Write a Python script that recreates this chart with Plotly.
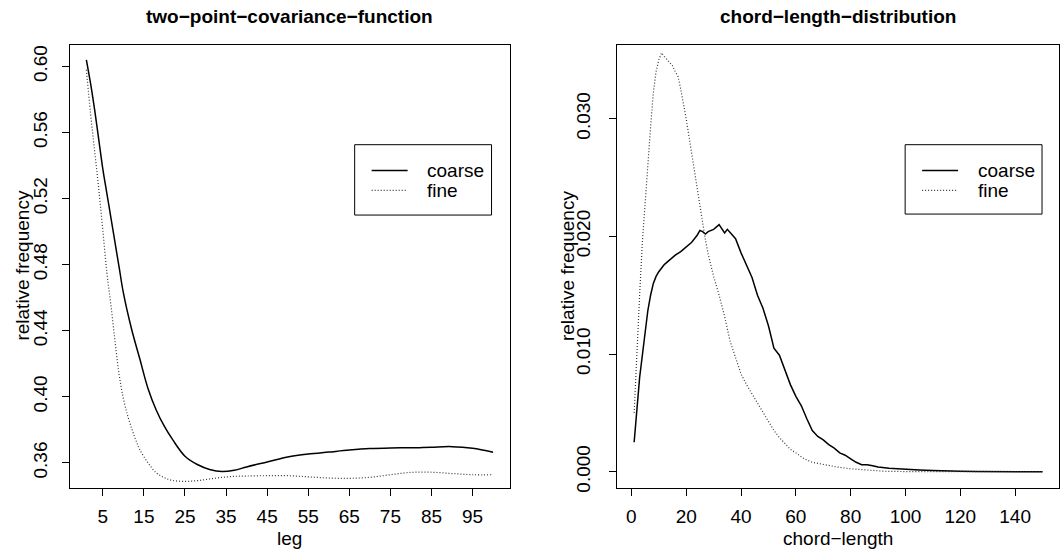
import plotly.graph_objects as go

# ---------------- data: two-point covariance function ----------------
leg_x = [1, 2, 3, 4, 5, 6, 7, 8, 9, 10, 12, 14, 16, 18, 20, 22, 25, 28, 31, 34,
         37, 40, 45, 50, 55, 60, 65, 70, 75, 80, 85, 90, 95, 100]
cov_coarse = [0.604, 0.590, 0.574, 0.556, 0.538, 0.523, 0.508, 0.493, 0.478, 0.463,
              0.441, 0.423, 0.405, 0.392, 0.382, 0.374, 0.364, 0.3590, 0.3560, 0.3547,
              0.3555, 0.3575, 0.3605, 0.3635, 0.3653, 0.3665, 0.3677, 0.3686, 0.3690,
              0.3691, 0.3695, 0.3698, 0.3688, 0.3664]

leg_x_fine = [1, 2, 3, 4, 5, 6, 7, 8, 9, 10, 11, 12, 13, 14, 16, 18, 20, 22, 25, 28,
              31, 34, 37, 40, 45, 50, 55, 60, 65, 70, 75, 80, 85, 90, 95, 100]
cov_fine = [0.598, 0.572, 0.549, 0.526, 0.501, 0.475, 0.455, 0.433, 0.413, 0.399,
            0.389, 0.381, 0.374, 0.368, 0.360, 0.354, 0.351, 0.3493, 0.3488, 0.3492,
            0.3502, 0.3512, 0.3518, 0.3520, 0.3522, 0.3522, 0.3515, 0.3508, 0.3506,
            0.3512, 0.3528, 0.3542, 0.3543, 0.3535, 0.3528, 0.3528]

# ---------------- data: chord length distribution ----------------
chord_x_coarse = [1, 2, 3, 4, 5, 6, 7, 8, 9, 10, 12, 14, 16, 18, 20, 22, 24, 25, 26, 27,
                  28, 30, 32, 33, 34, 35, 36, 38, 40, 42, 44, 46, 48, 50, 52, 54, 56, 58,
                  60, 62, 64, 66, 68, 70, 72, 74, 76, 78, 80, 82, 84, 86, 88, 90, 94, 100,
                  105, 110, 115, 120, 126, 130, 140, 150]
chord_coarse = [0.0025, 0.0055, 0.0080, 0.0099, 0.0120, 0.0137, 0.0150, 0.0160, 0.0166,
                0.0170, 0.0176, 0.0180, 0.0184, 0.0187, 0.0191, 0.0195, 0.0201, 0.0205,
                0.0204, 0.0202, 0.0204, 0.0206, 0.0210, 0.0206, 0.0203, 0.0206, 0.0203,
                0.0198, 0.0186, 0.0175, 0.0165, 0.0150, 0.0139, 0.0124, 0.0105, 0.0099,
                0.0087, 0.0074, 0.0064, 0.0056, 0.0045, 0.0035, 0.0030, 0.0027, 0.0023,
                0.0020, 0.0016, 0.0014, 0.0011, 0.0008, 0.0006, 0.0006, 0.0005, 0.0004,
                0.0003, 0.0002, 0.00015, 0.0001, 0.00005, 0.00003, 0.00001, 0.0, 0.0, 0.0]

chord_x_fine = [1, 2, 3, 4, 5, 6, 7, 8, 9, 10, 11, 12, 13, 14, 15, 16, 17, 18, 19, 20,
                21, 22, 23, 24, 25, 26, 27, 28, 29, 30, 32, 34, 36, 38, 40, 42, 44, 46,
                48, 50, 52, 54, 56, 58, 60, 63, 66, 70, 75, 80, 85, 92, 100, 110, 120,
                130, 140, 150]
chord_fine = [0.0050, 0.0105, 0.0150, 0.0195, 0.0230, 0.0262, 0.0293, 0.0322, 0.0340,
              0.0350, 0.0356, 0.0353, 0.0350, 0.0347, 0.0345, 0.0340, 0.0336, 0.0325,
              0.0313, 0.0300, 0.0285, 0.0270, 0.0255, 0.0240, 0.0225, 0.0210, 0.0197,
              0.0185, 0.0175, 0.0166, 0.0150, 0.0132, 0.0111, 0.0096, 0.0083, 0.0074,
              0.0066, 0.0058, 0.0050, 0.0042, 0.0035, 0.0029, 0.0024, 0.0019, 0.0016,
              0.0011, 0.0008, 0.0006, 0.0004, 0.00025, 0.00015, 0.00004, 0.00001, 0.0,
              0.0, 0.0, 0.0, 0.0]

series_names = ["coarse", "fine"]
left_xticks = [5, 15, 25, 35, 45, 55, 65, 75, 85, 95]
left_yticks = [0.36, 0.40, 0.44, 0.48, 0.52, 0.56, 0.60]
right_xticks = [0, 20, 40, 60, 80, 100, 120, 140]
right_yticks = [0.000, 0.010, 0.020, 0.030]

titles = ["two\u2212point\u2212covariance\u2212function", "chord\u2212length\u2212distribution"]
xlabels = ["leg", "chord\u2212length"]
ylabel = "relative frequency"

# ---------------- figure ----------------
W, H = 1060, 558
FONT = "Liberation Sans, Arial, Helvetica, sans-serif"
FS = 19

def px(x):
    return x / W

def py(y):
    return 1 - y / H

solid = dict(color="black", width=1.5)
dotted = dict(color="#333333", width=1.2, dash="1px,2px")

fig = go.Figure()
fig.add_trace(go.Scatter(x=leg_x, y=cov_coarse, mode="lines", line=solid, line_shape="spline",
                         name=series_names[0], xaxis="x", yaxis="y", showlegend=False))
fig.add_trace(go.Scatter(x=leg_x_fine, y=cov_fine, mode="lines", line=dotted, line_shape="spline",
                         name=series_names[1], xaxis="x", yaxis="y", showlegend=False))
fig.add_trace(go.Scatter(x=chord_x_coarse, y=chord_coarse, mode="lines", line=solid,
                         name=series_names[0], xaxis="x2", yaxis="y2", showlegend=False))
fig.add_trace(go.Scatter(x=chord_x_fine, y=chord_fine, mode="lines", line=dotted,
                         name=series_names[1], xaxis="x2", yaxis="y2", showlegend=False))

axis_common = dict(showgrid=False, zeroline=False, showline=True, mirror=True,
                   linecolor="black", linewidth=1, ticks="outside", ticklen=7,
                   tickcolor="black", tickwidth=1,
                   tickfont=dict(family=FONT, size=FS, color="black"))

ydom = [py(492), py(45)]
fig.update_layout(
    width=W, height=H,
    margin=dict(l=0, r=0, t=0, b=0),
    paper_bgcolor="white", plot_bgcolor="white",
    xaxis=dict(domain=[px(70), px(510)], range=[-3, 104], tickvals=left_xticks,
               ticklabelstandoff=5, anchor="y", **axis_common),
    yaxis=dict(domain=ydom, range=[0.345, 0.6132], tickvals=left_yticks,
               ticktext=[f"{v:.2f}" for v in left_yticks], tickangle=-90,
               ticklabelstandoff=7, anchor="x", **axis_common),
    xaxis2=dict(domain=[px(618), 1.0], range=[-5.1, 156], tickvals=right_xticks,
                ticklabelstandoff=5, anchor="y2", **axis_common),
    yaxis2=dict(domain=ydom, range=[-0.00135, 0.0363], tickvals=right_yticks,
                ticktext=[f"{v:.3f}" for v in right_yticks], tickangle=-90,
                ticklabelstandoff=12, anchor="x2", **axis_common),
    showlegend=False,
)

ann = []
# titles
for cx, t in zip([290, 839], titles):
    ann.append(dict(x=px(cx), y=py(17), xref="paper", yref="paper", text=f"<b>{t}</b>",
                    showarrow=False, font=dict(family=FONT, size=FS, color="black"),
                    xanchor="center", yanchor="middle"))
# x labels
for cx, t in zip([290, 839], xlabels):
    ann.append(dict(x=px(cx), y=py(543), xref="paper", yref="paper", text=t,
                    showarrow=False, font=dict(family=FONT, size=FS, color="black"),
                    xanchor="center", yanchor="middle"))
# y labels
for cx in [23, 568]:
    ann.append(dict(x=px(cx), y=py(268), xref="paper", yref="paper", text=ylabel,
                    textangle=-90, showarrow=False,
                    font=dict(family=FONT, size=FS, color="black"),
                    xanchor="center", yanchor="middle"))

shapes = []
# legends
for (bx0, bx1, by0, by1, lx0, lx1, tx) in [(355, 492, 146, 217, 372, 408, 425),
                                           (906, 1043, 146, 216, 923, 959, 977)]:
    shapes.append(dict(type="rect", xref="paper", yref="paper", x0=px(bx0), x1=px(bx1),
                       y0=py(by1), y1=py(by0), line=dict(color="black", width=1),
                       fillcolor="white"))
    for ly, name, st in [(172, series_names[0], solid), (192, series_names[1], dotted)]:
        shapes.append(dict(type="line", xref="paper", yref="paper", x0=px(lx0), x1=px(lx1),
                           y0=py(ly), y1=py(ly), line=st))
        ann.append(dict(x=px(tx), y=py(ly), xref="paper", yref="paper", text=name,
                        showarrow=False, font=dict(family=FONT, size=FS, color="black"),
                        xanchor="left", yanchor="middle"))

fig.update_layout(annotations=ann, shapes=shapes)
fig.write_html("out.html")
